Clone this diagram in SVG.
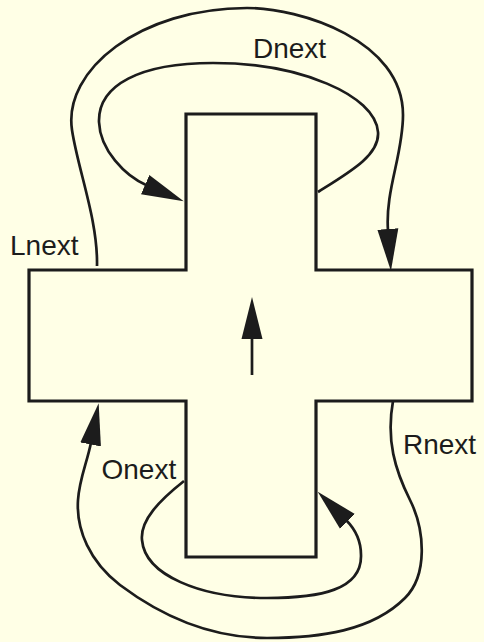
<svg xmlns="http://www.w3.org/2000/svg" width="484" height="642" viewBox="0 0 484 642">
  <style>
    .edge { fill: none; stroke: #1c1c1c; stroke-width: 2.7; stroke-linecap: butt; marker-end: url(#ah); }
    .shape { fill: none; stroke: #1c1c1c; stroke-width: 3.2; stroke-linejoin: miter; }
    .lbl { font-family: "Liberation Sans", Arial, sans-serif; font-size: 28px; fill: #1c1c1c; }
  </style>
  <defs>
    <marker id="ah" markerUnits="userSpaceOnUse" viewBox="-2 -11 43 22" markerWidth="43" markerHeight="22" refX="0" refY="0" orient="auto">
      <path d="M-2,-10.5 L40,0 L-2,10.5 z" fill="#1c1c1c"/>
    </marker>
  </defs>
  <rect x="0" y="0" width="484" height="642" fill="#FFFFE6"/>

  <g id="cross">
    <polygon class="shape" points="186,114 316,114 316,270 472,270 472,401 316,401 316,557 186,557 186,401 29,401 29,270 186,270"/>
  </g>

  <g id="connectors">
    <path id="edge-center" class="edge" d="M252,375 L252,337"/>
    <path id="edge-lnext" class="edge" d="M97,266 C98,220 78,170 72,130 C63,70 140,8 247,8 C300,8 403,40 403,115 C403,155 385,190 388,231"/>
    <path id="edge-dnext" class="edge" d="M318,192 C350,172 380,155 378,132 C375,95 300,63 213,63 C140,63 98,85 99,122 C100,150 125,176 147,185.5"/>
    <path id="edge-onext" class="edge" d="M184,481 C160,500 140,520 142,540 C145,575 200,598 267,598 C320,598 362,590 361,555 C361,545 358,532 346,520"/>
    <path id="edge-rnext" class="edge" d="M393,401 C386,440 395,470 410,500 C425,530 428,575 405,598 C372,631 320,638 267,638 C210,638 160,615 120,585 C90,562 76,530 78,500 C79.5,478 87,463 91,442.5"/>
  </g>

  <g id="labels">
    <text class="lbl" x="253" y="58">Dnext</text>
    <text class="lbl" x="10" y="255">Lnext</text>
    <text class="lbl" x="403" y="454">Rnext</text>
    <text class="lbl" x="101.5" y="479">Onext</text>
  </g>
</svg>
